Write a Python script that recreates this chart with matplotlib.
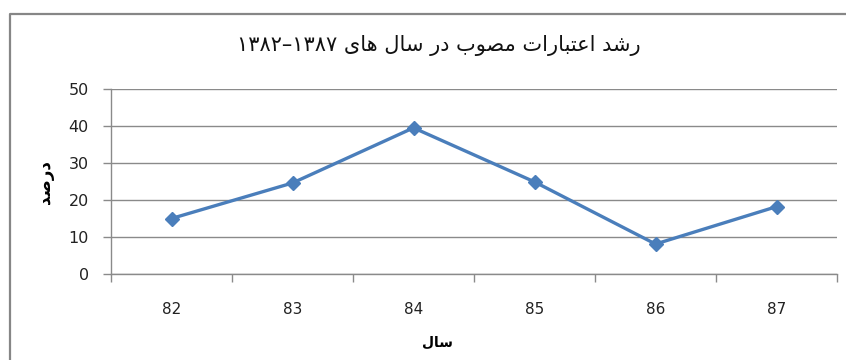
import matplotlib.pyplot as plt
from matplotlib.lines import Line2D
import numpy as np

years = ['82', '83', '84', '85', '86', '87']
growth = [15.0, 24.6, 39.5, 24.9, 8.1, 18.2]

title_txt = 'رشد اعتبارات مصوب در سال های ۱۳۸۲–۱۳۸۷'
xlabel_txt = 'سال'
ylabel_txt = 'درصد'

# arabic presentation forms: isolated, final, initial, medial
forms = {
    'ا': ('\uFE8D', '\uFE8E', None, None),
    'ب': ('\uFE8F', '\uFE90', '\uFE91', '\uFE92'),
    'ت': ('\uFE95', '\uFE96', '\uFE97', '\uFE98'),
    'د': ('\uFEA9', '\uFEAA', None, None),
    'ر': ('\uFEAD', '\uFEAE', None, None),
    'س': ('\uFEB1', '\uFEB2', '\uFEB3', '\uFEB4'),
    'ش': ('\uFEB5', '\uFEB6', '\uFEB7', '\uFEB8'),
    'ص': ('\uFEB9', '\uFEBA', '\uFEBB', '\uFEBC'),
    'ع': ('\uFEC9', '\uFECA', '\uFECB', '\uFECC'),
    'ل': ('\uFEDD', '\uFEDE', '\uFEDF', '\uFEE0'),
    'م': ('\uFEE1', '\uFEE2', '\uFEE3', '\uFEE4'),
    'ه': ('\uFEE9', '\uFEEA', '\uFEEB', '\uFEEC'),
    'و': ('\uFEED', '\uFEEE', None, None),
    'ی': ('\uFEEF', '\uFEF0', '\uFEF3', '\uFEF4'),
}


def shape_word(w):
    out = []
    for i, c in enumerate(w):
        if c not in forms:
            out.append(c)
            continue
        prev = w[i - 1] if i > 0 else None
        nxt = w[i + 1] if i < len(w) - 1 else None
        jp = prev in forms and forms[prev][2] is not None
        jn = nxt in forms and forms[c][2] is not None
        if jp and jn:
            out.append(forms[c][3])
        elif jn:
            out.append(forms[c][2])
        elif jp:
            out.append(forms[c][1])
        else:
            out.append(forms[c][0])
    return ''.join(reversed(out))


def rtl(text):
    toks = text.split(' ')
    res = []
    for t in reversed(toks):
        if any(ch in forms for ch in t):
            res.append(shape_word(t))
        else:
            res.append(t)
    return ' '.join(res)


plt.rcParams['font.family'] = ['DejaVu Sans']

fig = plt.figure(figsize=(8.46, 3.6), dpi=100)
ax = fig.add_axes([111 / 846, 1 - 274 / 360, (837 - 111) / 846, (274 - 89) / 360])

x = np.arange(len(years))
ax.plot(x, growth, color='#4a7ebb', lw=2.4, marker='D', markersize=7.5,
        markerfacecolor='#4a7ebb', markeredgecolor='#4a7ebb', zorder=3)

ax.set_xlim(-0.5, len(years) - 0.5)
ax.set_ylim(0, 50)
ax.set_yticks([0, 10, 20, 30, 40, 50])
ax.yaxis.grid(True, color='#8a8a8a', lw=1)
ax.set_axisbelow(True)

ax.set_xticks(np.arange(-0.5, len(years), 1.0))
ax.set_xticklabels([])
ax.set_xticks(x, minor=True)
ax.set_xticklabels(years, minor=True)
ax.tick_params(axis='x', which='minor', length=0, pad=20, labelsize=11, labelcolor='#222222')
ax.tick_params(axis='x', which='major', length=6, color='#8a8a8a', width=1)
ax.tick_params(axis='y', length=6, color='#8a8a8a', width=1, pad=10, labelsize=11.5,
               labelcolor='#222222')

for s in ['top', 'right']:
    ax.spines[s].set_visible(False)
for s in ['left', 'bottom']:
    ax.spines[s].set_color('#8a8a8a')
    ax.spines[s].set_linewidth(1)

fig.text(439 / 846, 1 - 46 / 360, rtl(title_txt), ha='center', va='center', fontsize=15,
         color='#111111')
fig.text(437 / 846, 1 - 343 / 360, rtl(xlabel_txt), ha='center', va='center', fontsize=10,
         fontweight='bold')
fig.text(45 / 846, 1 - 182 / 360, rtl(ylabel_txt), ha='center', va='center', fontsize=12,
         fontweight='bold', rotation=90)

# outer chart frame (left and top edges)
fig.add_artist(Line2D([9.5 / 846, 9.5 / 846, 1.0], [0.0, 1 - 14 / 360, 1 - 14 / 360],
                      transform=fig.transFigure, color='#868686', lw=1.6))

fig.savefig('out.png', dpi=100)
